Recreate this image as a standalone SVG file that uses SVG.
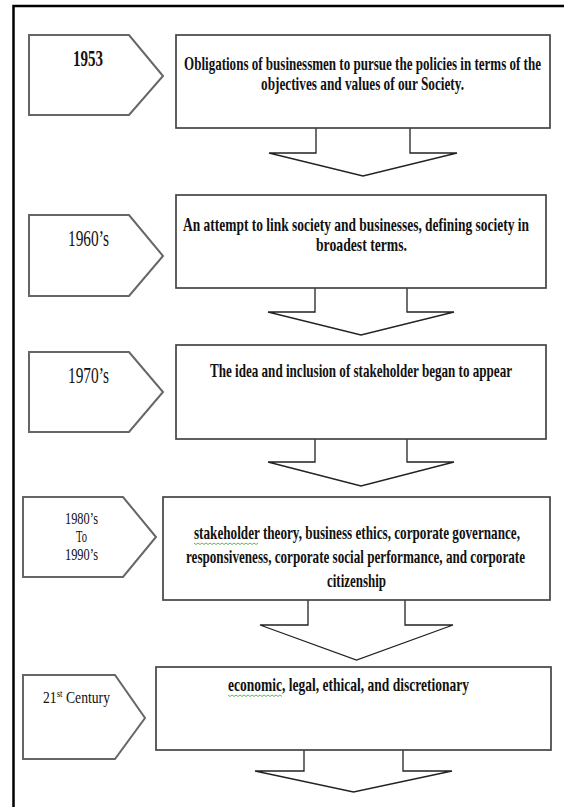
<svg xmlns="http://www.w3.org/2000/svg" width="564" height="807" viewBox="0 0 564 807">
<style>
.frame{fill:none;stroke:#000;stroke-width:2.5}
.lbl{fill:#fff;stroke:#666;stroke-width:2;stroke-linejoin:miter}
.box{fill:#fff;stroke:#444;stroke-width:1.7}
.arr{fill:none;stroke:#222;stroke-width:1.3;stroke-linejoin:miter}
.t{font-family:"Liberation Serif","Times New Roman",serif;font-weight:bold;font-size:19px;fill:#111}
.y{font-family:"Liberation Serif","Times New Roman",serif;font-size:23px;fill:#111}
.ys{font-family:"Liberation Serif","Times New Roman",serif;font-size:17px;fill:#111}
.sq{fill:none;stroke:#3da03d;stroke-width:0.8}
</style>
<rect class="frame" x="13.5" y="6" width="620" height="900"/>

<g id="connectors">
<path class="arr" d="M316,128 V153 H269 L363,176 L457,153 H410 V128"/>
<path class="arr" d="M315,288 V312 H268 L361,335 L454,312 H407 V288"/>
<path class="arr" d="M315,439 V462 H268 L361,486 L454,462 H407 V439"/>
<path class="arr" d="M308,600 V625 H260 L356.5,660 L453,625 H405 V600"/>
<path class="arr" d="M304,750 V771 H255 L353.5,792 L452,771 H403 V750"/>
</g>

<g id="label-1953">
<polygon class="lbl" points="29,35 129,35 163,76 129,115 29,115"/>
<text class="y" x="73" y="66" font-weight="bold" textLength="30" lengthAdjust="spacingAndGlyphs">1953</text>
</g>
<g id="box-1953">
<rect class="box" x="176" y="35" width="374" height="93"/>
<text class="t" x="184" y="70" textLength="357" lengthAdjust="spacingAndGlyphs">Obligations of businessmen to pursue  the policies in terms of the</text>
<text class="t" x="261" y="90" textLength="203" lengthAdjust="spacingAndGlyphs">objectives and values of our Society.</text>
</g>

<g id="label-1960s">
<polygon class="lbl" points="29,215 129,215 163,256 129,296 29,296"/>
<text class="y" x="68" y="246" textLength="41" lengthAdjust="spacingAndGlyphs">1960’s</text>
</g>
<g id="box-1960s">
<rect class="box" x="176" y="195" width="370" height="93"/>
<text class="t" x="183" y="231" textLength="346" lengthAdjust="spacingAndGlyphs">An attempt to link society and businesses, defining society in</text>
<text class="t" x="316" y="251" textLength="91" lengthAdjust="spacingAndGlyphs">broadest terms.</text>
</g>

<g id="label-1970s">
<polygon class="lbl" points="29,352 129,352 163,392 129,432 29,432"/>
<text class="y" x="68" y="383" textLength="41" lengthAdjust="spacingAndGlyphs">1970’s</text>
</g>
<g id="box-1970s">
<rect class="box" x="176" y="345" width="370" height="94"/>
<text class="t" x="210" y="377" textLength="302" lengthAdjust="spacingAndGlyphs">The idea and inclusion of stakeholder began to appear</text>
</g>

<g id="label-1980s">
<polygon class="lbl" points="23,497 123,497 156,537 123,577 23,577"/>
<text class="ys" x="65" y="524" textLength="33" lengthAdjust="spacingAndGlyphs">1980’s</text>
<text class="ys" x="76" y="542" textLength="11" lengthAdjust="spacingAndGlyphs">To</text>
<text class="ys" x="65" y="560" textLength="33" lengthAdjust="spacingAndGlyphs">1990’s</text>
</g>
<g id="box-1980s">
<rect class="box" x="163" y="497" width="387" height="103"/>
<text class="t" x="194" y="539" textLength="326" lengthAdjust="spacingAndGlyphs">stakeholder theory, business  ethics, corporate governance,</text>
<path class="sq" d="M194,543 l2,1.5 l2,-1.5 l2,1.5 l2,-1.5 l2,1.5 l2,-1.5 l2,1.5 l2,-1.5 l2,1.5 l2,-1.5 l2,1.5 l2,-1.5 l2,1.5 l2,-1.5 l2,1.5 l2,-1.5 l2,1.5 l2,-1.5 l2,1.5 l2,-1.5 l2,1.5 l2,-1.5 l2,1.5 l2,-1.5 l2,1.5 l2,-1.5 l2,1.5 l2,-1.5 l2,1.5 l2,-1.5 l2,1.5 l2,-1.5"/>
<text class="t" x="186" y="563" textLength="339" lengthAdjust="spacingAndGlyphs">responsiveness, corporate social performance, and corporate</text>
<text class="t" x="327" y="587" textLength="59" lengthAdjust="spacingAndGlyphs">citizenship</text>
</g>

<g id="label-21st">
<polygon class="lbl" points="23,675 115,675 145,718 115,759 23,759"/>
<text class="ys" x="43" y="703" textLength="67" lengthAdjust="spacingAndGlyphs">21<tspan font-size="11" dy="-6">st</tspan><tspan dy="6"> Century</tspan></text>
</g>
<g id="box-21st">
<rect class="box" x="156" y="667" width="395" height="83"/>
<text class="t" x="228" y="691" textLength="241" lengthAdjust="spacingAndGlyphs">economic, legal, ethical, and discretionary</text>
<path class="sq" d="M228,695 l2,1.5 l2,-1.5 l2,1.5 l2,-1.5 l2,1.5 l2,-1.5 l2,1.5 l2,-1.5 l2,1.5 l2,-1.5 l2,1.5 l2,-1.5 l2,1.5 l2,-1.5 l2,1.5 l2,-1.5 l2,1.5 l2,-1.5 l2,1.5 l2,-1.5 l2,1.5 l2,-1.5 l2,1.5 l2,-1.5 l2,1.5 l2,-1.5 l2,1.5"/>
</g>
</svg>
